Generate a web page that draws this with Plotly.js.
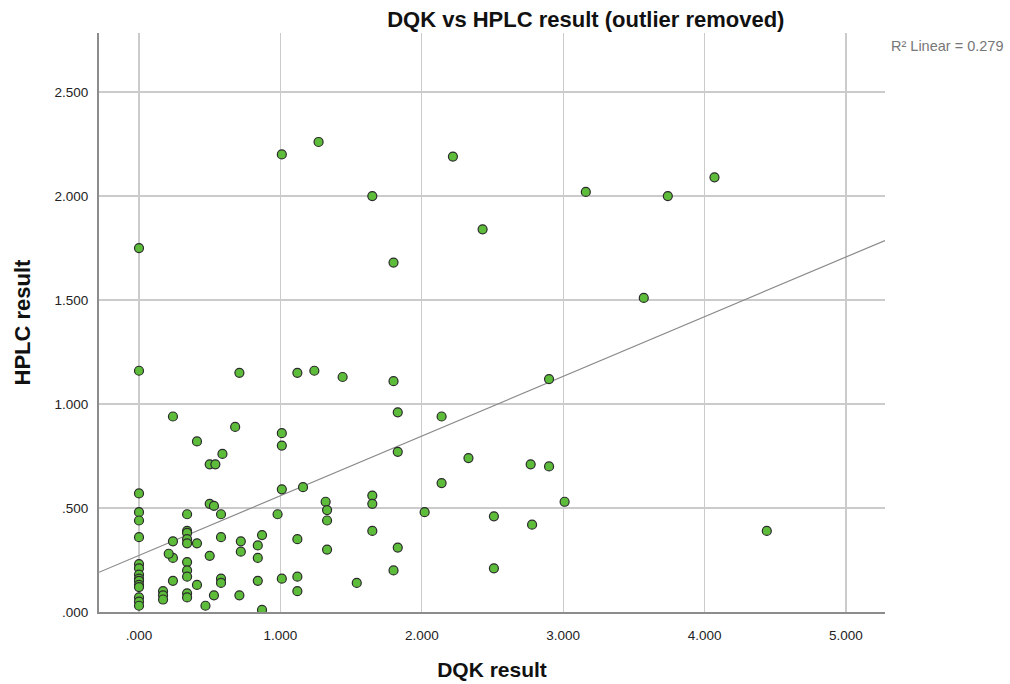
<!DOCTYPE html>
<html>
<head>
<meta charset="utf-8">
<script src="https://cdn.plot.ly/plotly-3.0.1.min.js"></script>
<style>html,body{margin:0;padding:0;background:#fff;}#chart{width:1010px;height:684px;}</style>
</head>
<body>
<div id="chart"></div>
<script>
// DQK result (x) and HPLC result (y)
const dqk = [
  0,0,0,0,0,0,0,0,0,0,0,0,0,0,0,0,
  0.17,0.17,0.17,
  0.24,0.24,0.24,0.24,0.21,
  0.34,0.34,0.34,0.34,0.34,0.34,0.34,0.34,0.34,0.34,
  0.41,0.41,0.41,
  0.47,
  0.50,0.50,0.50,
  0.53,0.53,
  0.54,
  0.58,0.58,0.58,0.58,
  0.59,
  0.68,
  0.71,0.71,
  0.72,0.72,
  0.84,0.84,0.84,
  0.87,0.87,
  0.98,
  1.01,1.01,1.01,1.01,1.01,
  1.12,1.12,1.12,1.12,
  1.16,
  1.24,
  1.27,
  1.32,
  1.33,1.33,1.33,
  1.44,
  1.54,
  1.65,1.65,1.65,1.65,
  1.80,1.80,1.80,
  1.83,1.83,1.83,
  2.02,
  2.14,2.14,
  2.22,
  2.33,
  2.43,
  2.51,2.51,
  2.77,
  2.78,
  2.90,2.90,
  3.01,
  3.16,
  3.57,
  3.74,
  4.07,
  4.44
];
const hplc = [
  1.75,1.16,0.57,0.48,0.44,0.36,0.23,0.21,0.18,0.16,0.15,0.13,0.12,0.07,0.05,0.03,
  0.10,0.08,0.06,
  0.94,0.34,0.26,0.15,0.28,
  0.47,0.39,0.38,0.35,0.33,0.24,0.20,0.17,0.09,0.07,
  0.82,0.33,0.13,
  0.03,
  0.71,0.27,0.52,
  0.51,0.08,
  0.71,
  0.47,0.36,0.16,0.14,
  0.76,
  0.89,
  1.15,0.08,
  0.34,0.29,
  0.32,0.26,0.15,
  0.37,0.01,
  0.47,
  2.20,0.86,0.80,0.59,0.16,
  1.15,0.35,0.17,0.10,
  0.60,
  1.16,
  2.26,
  0.53,
  0.49,0.44,0.30,
  1.13,
  0.14,
  2.00,0.56,0.52,0.39,
  1.68,1.11,0.20,
  0.96,0.77,0.31,
  0.48,
  0.94,0.62,
  2.19,
  0.74,
  1.84,
  0.46,0.21,
  0.71,
  0.42,
  1.12,0.70,
  0.53,
  2.02,
  1.51,
  2.00,
  2.09,
  0.39
];
const xTickVals = [0,1,2,3,4,5];
const xTickText = [".000","1.000","2.000","3.000","4.000","5.000"];
const yTickVals = [0,0.5,1,1.5,2,2.5];
const yTickText = [".000",".500","1.000","1.500","2.000","2.500"];
const xRange = [-0.283, 5.276];
const yRange = [0, 2.784];
// linear fit as drawn in the picture (fit of the full original data)
const fitIntercept = 0.272;
const fitSlope = 0.287;
const r2Label = "R\u00b2 Linear = 0.279";

const fitX = xRange.slice();
const fitY = fitX.map(v => fitIntercept + fitSlope*v);

const font = "Liberation Sans, Arial, sans-serif";
const traces = [
  {x: fitX, y: fitY, mode: "lines", type: "scatter", line: {color: "#8a8a8a", width: 1.2}, hoverinfo: "skip"},
  {x: dqk, y: hplc, mode: "markers", type: "scatter",
   marker: {size: 9, color: "#5dbd3a", line: {color: "#2b2b2b", width: 1.2}}}
];
const layout = {
  width: 1010, height: 684,
  margin: {l: 99, r: 125, t: 33, b: 72},
  paper_bgcolor: "#ffffff", plot_bgcolor: "#ffffff",
  showlegend: false,
  font: {family: font, color: "#222"},
  title: {text: "<b>DQK vs HPLC result (outlier removed)</b>", x: 0.58, xanchor: "center", y: 0.972, yanchor: "middle", font: {family: font, size: 22, color: "#111"}},
  xaxis: {
    range: xRange, tickvals: xTickVals, ticktext: xTickText,
    showgrid: true, gridcolor: "#cbcbcb", gridwidth: 1.3,
    zeroline: false, showline: true, linecolor: "#8c8c8c", linewidth: 2,
    ticks: "", ticklabelstandoff: 10, tickfont: {family: font, size: 13.5, color: "#222"},
    title: {text: "<b>DQK result</b>", font: {family: font, size: 21, color: "#111"}, standoff: 20}
  },
  yaxis: {
    range: yRange, tickvals: yTickVals, ticktext: yTickText,
    showgrid: true, gridcolor: "#cbcbcb", gridwidth: 1.3,
    zeroline: false, showline: true, linecolor: "#8c8c8c", linewidth: 2,
    ticks: "", ticklabelstandoff: 6, tickfont: {family: font, size: 13.5, color: "#222"},
    title: {text: "<b>HPLC result</b>", font: {family: font, size: 22, color: "#111"}, standoff: 18}
  },
  annotations: [
    {text: r2Label, xref: "paper", yref: "paper", x: 1.0, y: 0.978, xanchor: "left", yanchor: "middle", xshift: 4, showarrow: false, font: {family: font, size: 14.5, color: "#777"}}
  ]
};
Plotly.newPlot("chart", traces, layout, {displayModeBar: false, staticPlot: true});
</script>
</body>
</html>
